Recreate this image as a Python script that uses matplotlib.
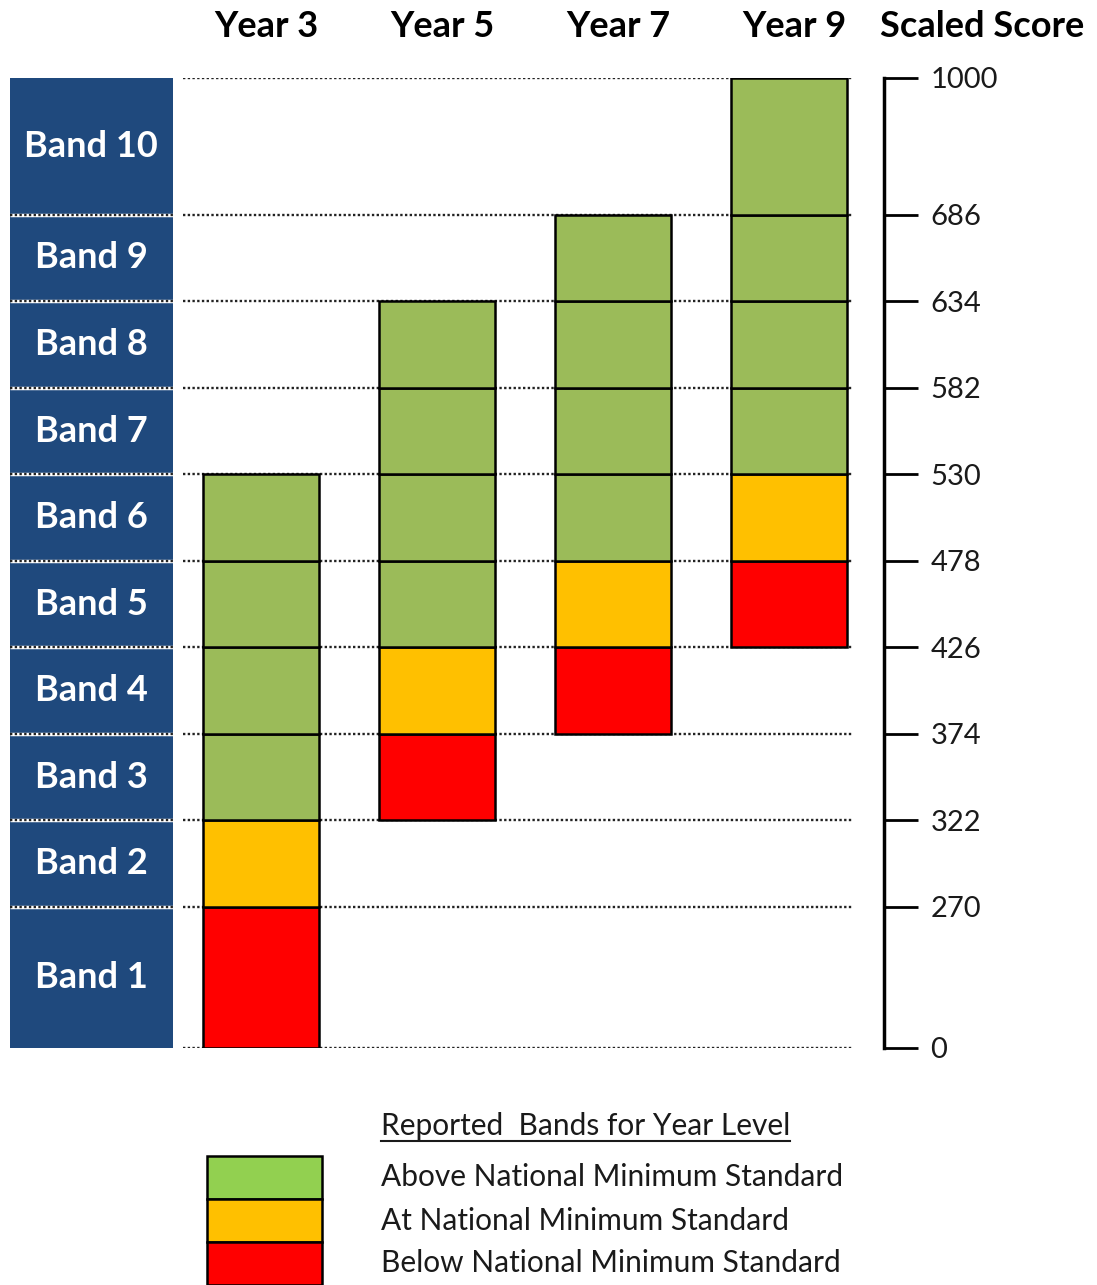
import numpy as np
import matplotlib
matplotlib.use("Agg")
from matplotlib import pyplot as plt
from matplotlib.lines import Line2D

# Data
score_edges = [0, 270, 322, 374, 426, 478, 530, 582, 634, 686, 1000]
band_names = [f"Band {i}" for i in range(1, 11)]
years = ["Year 3", "Year 5", "Year 7", "Year 9"]
start_band = [1, 3, 4, 5]
status_pattern = ["below", "at", "above", "above", "above", "above"]
legend_labels = ["Above National Minimum Standard",
                 "At National Minimum Standard",
                 "Below National Minimum Standard"]
legend_title = "Reported  Bands for Year Level"

bar_colors = {"above": "#9BBB59", "at": "#FFC000", "below": "#FF0000"}
legend_colors = ["#92D050", "#FFC000", "#FF0000"]
navy = "#1F497D"

# Scale: band 1 and band 10 are drawn taller than the others
band_sizes = [1.63, 1, 1, 1, 1, 1, 1, 1, 1, 1.58]
pos_edges = np.concatenate([[0], np.cumsum(band_sizes)])


def forward(v):
    return np.interp(v, score_edges, pos_edges)


def inverse(v):
    return np.interp(v, pos_edges, score_edges)


plt.rcParams["font.family"] = ["Lato", "DejaVu Sans"]

W, H = 1097, 1285
fig = plt.figure(figsize=(W / 100, H / 100), dpi=100)

# Main chart axes: right spine is the scaled score axis
origin = 261
spacing = 176
ax = fig.add_axes([0, (H - 1048) / H, 884 / W, (1048 - 78) / H])
ax.set_yscale("function", functions=(forward, inverse))
ax.set_ylim(0, 1000)
ax.set_xlim(-origin / spacing, (884 - origin) / spacing)

for s in ["left", "top", "bottom"]:
    ax.spines[s].set_visible(False)
ax.spines["right"].set_linewidth(2.5)
ax.set_xticks([])
ax.yaxis.tick_right()
ax.set_yticks(score_edges)
ax.set_yticklabels([str(v) for v in score_edges], fontsize=21, color="#1a1a1a")
ax.yaxis.set_minor_locator(matplotlib.ticker.NullLocator())
ax.tick_params(axis="y", direction="out", length=24.5, width=2, pad=9)

# Band label column
col_x = (91 - origin) / spacing
col_w = 163 / spacing
for i, name in enumerate(band_names):
    lo, hi = score_edges[i], score_edges[i + 1]
    ax.bar(col_x, hi - lo, bottom=lo, width=col_w, color=navy, linewidth=0)
    ax.text(col_x, (lo + hi) / 2, name, ha="center", va="center",
            color="white", fontsize=26, fontweight="bold")

# Dotted band boundaries
grid_left = (183 - origin) / spacing
grid_right = (852 - origin) / spacing
ax.hlines(score_edges[1:-1], col_x - col_w / 2, col_x + col_w / 2,
          color="white", linewidth=2.5)
ax.hlines(score_edges[1:-1], col_x - col_w / 2, col_x + col_w / 2,
          color="#222222", linewidth=1.7, linestyles=(0, (1, 1)))
ax.hlines(score_edges, grid_left, grid_right,
          color="#222222", linewidth=1.7, linestyles=(0, (1, 1)), zorder=1)

# Bars for each year level
bar_w = 116 / spacing
for xi, (year, sb) in enumerate(zip(years, start_band)):
    for k, status in enumerate(status_pattern):
        b = sb - 1 + k
        lo, hi = score_edges[b], score_edges[b + 1]
        ax.bar(xi, hi - lo, bottom=lo, width=bar_w, color=bar_colors[status],
               edgecolor="black", linewidth=1.8, zorder=3)
    ax.text(xi + 0.03, 1.0526, year, transform=ax.get_xaxis_transform(),
            ha="center", va="center", fontsize=26, fontweight="bold",
            clip_on=False)

ax.text((982 - origin) / spacing, 1.0526, "Scaled Score",
        transform=ax.get_xaxis_transform(), ha="center", va="center",
        fontsize=26, fontweight="bold", clip_on=False)

# Legend
lax = fig.add_axes([207 / W, 0, (W - 207) / W, 129 / H])
lax.set_xlim(0, (W - 207) / 115)
lax.set_ylim(0, 3)
lax.axis("off")
for i, (lab, c) in enumerate(zip(legend_labels, legend_colors)):
    y = 2 - i
    lax.bar(0.5, 1, bottom=y, width=1, color=c, edgecolor="black",
            linewidth=1.8, clip_on=False)
    lax.text(174 / 115, y + 0.5, lab, ha="left", va="center",
             fontsize=21.5, color="#1a1a1a")
title = lax.text(174 / 115, 3 + 30 / 43, legend_title, ha="left",
                 va="center", fontsize=21.5, color="#1a1a1a", clip_on=False)

fig.canvas.draw()
bb = title.get_window_extent()
fig.add_artist(Line2D([bb.x0 / W, bb.x1 / W], [(bb.y0 - 1) / H, (bb.y0 - 1) / H],
                      color="#1a1a1a", linewidth=1.5))

fig.savefig("out.png", dpi=100)
